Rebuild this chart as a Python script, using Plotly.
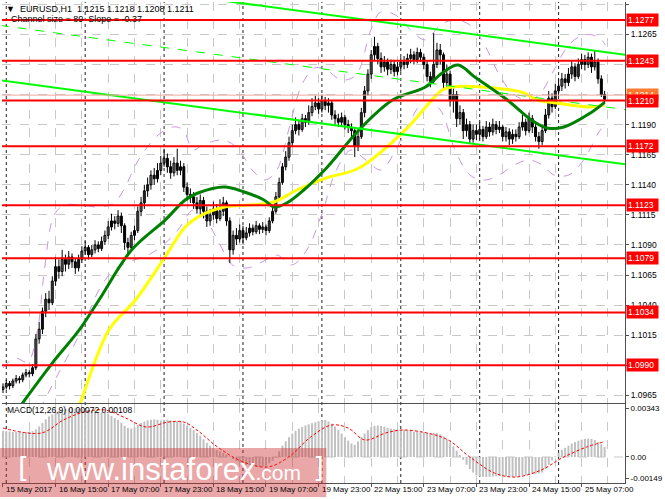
import plotly.graph_objects as go

# ---------------- data (prices in pips = 1e-4) ----------------
first_open_pips = 10970
close_pips = [
    10972,10975,10973,10977,10979,10978,10982,10984,10983,10988,
    11012,11020,11035,11045,11042,11060,11072,11068,11078,11074,
    11080,11076,11071,11078,11085,11088,11082,11086,11090,11087,
    11093,11098,11105,11110,11108,11114,11106,11092,11088,11098,
    11102,11118,11125,11135,11140,11148,11145,11152,11158,11162,
    11155,11150,11158,11152,11155,11138,11132,11130,11125,11120,
    11127,11118,11110,11115,11120,11112,11118,11125,11110,11086,
    11098,11095,11102,11096,11100,11104,11101,11106,11103,11105,
    11102,11110,11118,11130,11142,11155,11163,11175,11185,11190,
    11186,11195,11192,11200,11205,11208,11203,11210,11206,11208,
    11198,11195,11192,11196,11190,11188,11185,11172,11180,11200,
    11218,11232,11248,11255,11245,11238,11242,11236,11240,11234,
    11238,11242,11240,11245,11248,11244,11250,11246,11240,11230,
    11226,11240,11252,11248,11225,11232,11210,11215,11195,11200,
    11185,11190,11178,11185,11182,11186,11180,11188,11184,11190,
    11186,11188,11180,11184,11178,11182,11180,11188,11192,11185,
    11195,11188,11180,11176,11185,11198,11212,11205,11218,11222,
    11228,11225,11232,11238,11230,11240,11244,11240,11246,11238,
    11242,11228,11215,11211]
high_pips = [
    10975,10978,10977,10979,10982,10981,10984,10987,10986,10991,
    11016,11026,11038,11050,11052,11064,11080,11078,11086,11082,
    11085,11083,11079,11082,11089,11093,11090,11090,11094,11093,
    11097,11102,11110,11116,11114,11119,11117,11108,11096,11101,
    11106,11122,11130,11140,11146,11152,11154,11158,11164,11170,
    11166,11160,11163,11170,11160,11158,11142,11137,11134,11130,
    11132,11130,11122,11120,11126,11124,11128,11130,11127,11113,
    11102,11104,11107,11106,11105,11108,11107,11110,11108,11109,
    11107,11113,11122,11134,11146,11158,11168,11180,11190,11196,
    11194,11199,11198,11206,11212,11214,11212,11215,11213,11212,
    11210,11202,11199,11200,11198,11194,11191,11187,11186,11204,
    11222,11236,11252,11263,11258,11250,11247,11245,11244,11243,
    11242,11246,11247,11249,11253,11251,11254,11253,11249,11243,
    11234,11266,11258,11257,11250,11240,11235,11220,11218,11206,
    11203,11195,11193,11190,11190,11192,11189,11193,11192,11195,
    11193,11193,11190,11188,11187,11186,11186,11192,11198,11195,
    11200,11198,11191,11184,11190,11203,11218,11216,11224,11228,
    11233,11232,11237,11243,11241,11245,11249,11248,11250,11249,
    11252,11245,11231,11218]
low_pips = [
    10967,10970,10970,10971,10975,10975,10976,10980,10980,10981,
    10986,11008,11016,11030,11036,11040,11056,11062,11064,11068,
    11070,11071,11066,11068,11075,11082,11078,11080,11083,11084,
    11085,11090,11095,11102,11103,11105,11100,11086,11083,11085,
    11094,11100,11114,11120,11130,11136,11140,11142,11148,11155,
    11150,11145,11147,11148,11148,11134,11127,11125,11120,11116,
    11115,11112,11105,11106,11111,11108,11110,11114,11106,11075,
    11082,11090,11092,11091,11094,11097,11098,11099,11099,11100,
    11098,11100,11108,11116,11128,11140,11152,11160,11172,11182,
    11181,11184,11188,11190,11197,11202,11199,11200,11202,11200,
    11194,11190,11188,11189,11186,11183,11180,11163,11168,11178,
    11196,11214,11228,11243,11240,11233,11234,11231,11232,11230,
    11231,11234,11236,11237,11241,11240,11241,11242,11236,11226,
    11221,11224,11237,11240,11220,11221,11205,11200,11188,11190,
    11178,11180,11174,11175,11177,11178,11176,11178,11180,11181,
    11182,11183,11176,11176,11173,11174,11176,11178,11185,11181,
    11183,11183,11176,11170,11173,11183,11195,11200,11203,11214,
    11218,11220,11222,11228,11226,11228,11236,11235,11237,11233,
    11235,11224,11213,11208]

x_labels = ["15 May 2017", "16 May 15:00", "17 May 07:00", "17 May 23:00",
            "18 May 15:00", "19 May 07:00", "19 May 23:00", "22 May 15:00",
            "23 May 07:00", "23 May 23:00", "24 May 15:00", "25 May 07:00"]
x_label_bars = [0, 16, 32, 48, 64, 80, 96, 112, 128, 144, 160, 176]
day_start_bars = [1, 25, 49, 73, 97, 121, 145, 169]

levels = [1.1277, 1.1243, 1.1210, 1.1172, 1.1123, 1.1079, 1.1034, 1.0990]
level_texts = ["1.1277", "1.1243", "1.1210", "1.1172", "1.1123", "1.1079", "1.1034", "1.0990"]
bid_level = 1.12145
bid_text = "1.1214"

price_ticks = [1.0965, 1.0990, 1.1015, 1.1040, 1.1065, 1.1090, 1.1115,
               1.1140, 1.1165, 1.1190, 1.1215, 1.1240, 1.1265, 1.1290]
price_tick_text = ["1.0965", "1.0990", "1.1015", "1.1040", "1.1065", "1.1090", "1.1115",
                   "1.1140", "1.1165", "1.1190", "1.1215", "1.1240", "1.1265", "1.1290"]

ma_green_bar = [4, 6.6, 15.0, 23.2, 29.2, 39.1, 49.3, 55.4, 59.3, 67.4, 73.4, 79.4, 82.4, 86.3,
                91.5, 98.4, 108.3, 118.5, 128.5, 133.6, 138.4, 143.5, 153.4, 160.7, 165.5,
                170.6, 178.7, 183]
ma_green_val = [1.0951, 1.09611, 1.09919, 1.10194, 1.10443, 1.10858, 1.11107, 1.11274, 1.11332,
                1.11382, 1.11340, 1.11274, 1.11216, 1.11249, 1.11357, 1.11540, 1.11856, 1.12105,
                1.12213, 1.12329, 1.12396, 1.12296, 1.12105, 1.11939, 1.11872, 1.11880, 1.11997,
                1.12085]
ma_yellow_bar = [21.5, 23.8, 32.2, 40.3, 49.3, 55.4, 59.3, 67.4, 75.2, 82.4, 89.4, 98.4, 108.3,
                 122.4, 133.6, 136.6, 149.5, 158.5, 162.5, 168.5, 178.7, 183]
ma_yellow_val = [1.0945, 1.09611, 1.10194, 1.10443, 1.10800, 1.11049, 1.11132, 1.11215, 1.11232,
                 1.11257, 1.11357, 1.11457, 1.11540, 1.11856, 1.12188, 1.12213, 1.12205, 1.12163,
                 1.12105, 1.12080, 1.12047, 1.12063]

bb_upper_bar = [0, 3.6, 7.5, 10.5, 12.6, 15.6, 18.7, 23.2, 29.2, 33.7, 36.7, 41.2, 47.2, 51.7,
                54.8, 57.8, 60.8, 66.8, 71.3, 75.8, 79.7, 83.3, 86.9, 90.9, 94.8, 98.4, 102.9,
                107.4, 111.9, 114.9, 119.4, 124.0, 128.5, 133.0, 137.5, 142.0, 146.5, 151.0,
                155.5, 160.0, 163.1, 167.6, 172.1, 176.6, 181.1, 183.2]
bb_upper_val = [1.09878, 1.09961, 1.09928, 1.10194, 1.10692, 1.11149, 1.11232, 1.11232, 1.11216,
                1.11249, 1.11357, 1.11606, 1.11814, 1.11881, 1.11856, 1.11690, 1.11731, 1.11773,
                1.11706, 1.11523, 1.11440, 1.11523, 1.11856, 1.12230, 1.12371, 1.12354, 1.12271,
                1.12313, 1.12687, 1.12836, 1.12811, 1.12687, 1.12604, 1.12728, 1.12770, 1.12728,
                1.12562, 1.12313, 1.12147, 1.12105, 1.12147, 1.12354, 1.12562, 1.12645, 1.12629,
                1.12562]
bb_lower_bar = [11.1, 17.1, 23.2, 29.2, 33.7, 38.2, 44.2, 48.7, 53.2, 57.8, 60.8, 65.3, 69.8,
                74.3, 78.8, 83.3, 87.8, 92.4, 96.9, 101.4, 105.9, 110.4, 115.0, 119.4, 124.0,
                128.5, 133.0, 137.5, 142.0, 146.5, 151.0, 155.5, 160.0, 164.0, 167.6, 172.1,
                176.6, 181.1, 183.2]
bb_lower_val = [1.09529, 1.09845, 1.10152, 1.10526, 1.10692, 1.10759, 1.10817, 1.10900, 1.11025,
                1.11191, 1.11149, 1.10942, 1.10734, 1.10709, 1.10759, 1.10817, 1.10734, 1.10858,
                1.11149, 1.11523, 1.11690, 1.11606, 1.11523, 1.11690, 1.11939, 1.12105, 1.12022,
                1.11690, 1.11482, 1.11440, 1.11482, 1.11565, 1.11606, 1.11565, 1.11482, 1.11482,
                1.11606, 1.11831, 1.11914]

channel_bars = [-1, 190]
channel_upper = [1.13180, 1.12477]
channel_middle = [1.12725, 1.12022]
channel_lower = [1.12270, 1.11567]

# MACD histogram (units of 1e-5)
macd_e5 = [
    185,182,180,178,176,175,174,176,178,182,195,215,
    240,265,285,300,315,325,332,338,342,345,343,340,338,
    335,330,325,320,318,315,312,305,
    290,275,262,240,220,205,200,210,
    225,240,250,258,262,265,262,258,260,262,258,252,
    250,248,235,220,
    205,190,170,150,125,100,80,65,50,
    40,30,18,5,-15,
    -30,-40,-48,-55,-60,-65,-68,-70,-68,-60,-45,-25,-5,
    40,80,110,140,165,
    185,200,212,222,230,238,245,252,258,260,
    250,235,215,190,165,140,115,95,85,
    110,140,165,190,210,220,222,
    218,212,205,200,196,194,192,190,188,185,180,178,175,
    175,170,165,170,168,160,145,125,100,75,
    45,15,-20,-55,-85,-110,-130,
    -138,-140,-142,-140,-138,-136,-135,-134,-136,-138,-140,-138,-135,-130,-128,-125,-120,-118,-115,-110,
    -85,-55,-25,5,
    30,50,65,80,95,105,115,122,128,130,128,120,105,90,72]
signal_bar = [0, 11.7, 18.4, 24.7, 31, 37.3, 43.6, 50.2, 55, 59, 65.3, 73.1, 80.6, 86.9, 93.6,
              99.9, 105, 110.1, 116.4, 121.5, 129, 135.4, 142, 149.5, 155.8, 163.7, 170, 177.5, 183]
signal_e5 = [204, 169, 261, 317, 331, 275, 211, 246, 246, 190, 70, -35, -70, 0, 141,
             225, 204, 120, 169, 190, 169, 120, 0, -113, -141, -92, -7, 70, 108]
macd_ticks = [-0.00149, 0.0, 0.00343]
macd_tick_text = ["-0.00149", "0.00", "0.00343"]

# ---------------- figure ----------------
FONT = "Liberation Sans"
n = len(close_pips)
bars = list(range(n))
opens = [first_open_pips] + close_pips[:-1]
O = [v / 1e4 for v in opens]
C = [v / 1e4 for v in close_pips]
H = [v / 1e4 for v in high_pips]
L = [v / 1e4 for v in low_pips]

fig = go.Figure()

for bx, by in ((bb_upper_bar, bb_upper_val), (bb_lower_bar, bb_lower_val)):
    fig.add_trace(go.Scatter(x=bx, y=by, mode="lines", line=dict(color="#C896E6", width=1, dash="dash", shape="spline"),
                             hoverinfo="skip", xaxis="x", yaxis="y"))

wx, wy = [], []
for i in bars:
    wx += [i, i, None]
    wy += [L[i], H[i], None]
fig.add_trace(go.Scatter(x=wx, y=wy, mode="lines", line=dict(color="black", width=1), hoverinfo="skip",
                         xaxis="x", yaxis="y"))

bull_x, bull_base, bull_h, bear_x, bear_base, bear_h = [], [], [], [], [], []
for i in bars:
    lo, hi = min(O[i], C[i]), max(O[i], C[i])
    h = max(hi - lo, 0.00003)
    if C[i] >= O[i]:
        bull_x.append(i); bull_base.append(lo); bull_h.append(h)
    else:
        bear_x.append(i); bear_base.append(lo); bear_h.append(h)
fig.add_trace(go.Bar(x=bull_x, y=bull_h, base=bull_base, width=0.6, marker=dict(color="white", line=dict(color="black", width=1)),
                     hoverinfo="skip", xaxis="x", yaxis="y"))
fig.add_trace(go.Bar(x=bear_x, y=bear_h, base=bear_base, width=0.6, marker=dict(color="black", line=dict(color="black", width=1)),
                     hoverinfo="skip", xaxis="x", yaxis="y"))

fig.add_trace(go.Scatter(x=ma_yellow_bar, y=ma_yellow_val, mode="lines", line=dict(color="#FFFF00", width=3, shape="spline"),
                         hoverinfo="skip", xaxis="x", yaxis="y"))
fig.add_trace(go.Scatter(x=ma_green_bar, y=ma_green_val, mode="lines", line=dict(color="#008000", width=3, shape="spline"),
                         hoverinfo="skip", xaxis="x", yaxis="y"))

fig.add_trace(go.Scatter(x=channel_bars, y=channel_middle, mode="lines", line=dict(color="#00FF00", width=1, dash="dash"),
                         hoverinfo="skip", xaxis="x", yaxis="y"))
for cy in (channel_upper, channel_lower):
    fig.add_trace(go.Scatter(x=channel_bars, y=cy, mode="lines", line=dict(color="#00FF00", width=2),
                             hoverinfo="skip", xaxis="x", yaxis="y"))

fig.add_trace(go.Scatter(x=channel_bars, y=[bid_level, bid_level], mode="lines", line=dict(color="#F6A8A0", width=1),
                         hoverinfo="skip", xaxis="x", yaxis="y"))
for lv in levels:
    fig.add_trace(go.Scatter(x=channel_bars, y=[lv, lv], mode="lines", line=dict(color="#FF0000", width=2),
                             hoverinfo="skip", xaxis="x", yaxis="y"))

fig.add_trace(go.Bar(x=bars, y=[v / 1e5 for v in macd_e5], width=0.6, marker=dict(color="#C0C0C0", line=dict(width=0)),
                     hoverinfo="skip", xaxis="x2", yaxis="y2"))
fig.add_trace(go.Scatter(x=signal_bar, y=[v / 1e5 for v in signal_e5], mode="lines",
                         line=dict(color="#FF0000", width=1, dash="3px,2px", shape="spline"),
                         hoverinfo="skip", xaxis="x2", yaxis="y2"))

grid = dict(showgrid=True, gridcolor="#C8C8C8", gridwidth=1, griddash="dash")
xcommon = dict(range=[-0.3, 189.2], tickmode="linear", tick0=0, dtick=16, zeroline=False,
               minor=dict(tickmode="linear", tick0=0, dtick=8, showgrid=True, gridcolor="#C8C8C8", griddash="dash"),
               showline=True, linecolor="#505050", linewidth=1, **grid)

shapes = []
for d in day_start_bars:
    shapes.append(dict(type="line", xref="x", yref="paper", x0=d, x1=d, y0=0, y1=1,
                       line=dict(color="#202020", width=1, dash="dot"), layer="below"))
shapes.append(dict(type="line", xref="paper", yref="y2", x0=0, x1=1, y0=0, y1=0,
                   line=dict(color="#C8C8C8", width=1, dash="dash"), layer="below"))
shapes.append(dict(type="rect", xref="paper", yref="paper", x0=-0.004, x1=0.5206, y0=-0.0291, y1=0.0728,
                   fillcolor="rgba(205,45,45,0.42)", line=dict(width=0), layer="above"))

annotations = []
for b, t in zip(x_label_bars, x_labels):
    annotations.append(dict(x=b, xref="x", y=-0.0135, yref="paper", text=t, showarrow=False,
                            xanchor="left", yanchor="middle", xshift=1,
                            font=dict(family=FONT, size=8, color="black")))
annotations.append(dict(x=1, xref="paper", y=bid_level, yref="y", text=bid_text, showarrow=False,
                        xanchor="left", yanchor="middle", xshift=1, bgcolor="#FF7A30", borderpad=1, width=29,
                        align="left", font=dict(family=FONT, size=8.5, color="white")))
for lv, t in zip(levels, level_texts):
    annotations.append(dict(x=1, xref="paper", y=lv, yref="y", text=t, showarrow=False,
                            xanchor="left", yanchor="middle", xshift=1, bgcolor="#FF0000", borderpad=1, width=29,
                            align="left", font=dict(family=FONT, size=8.5, color="white")))
annotations.append(dict(x=0.003, xref="paper", y=0.9854, yref="paper", text="\u25BC  EURUSD,H1  1.1215 1.1218 1.1208 1.1211",
                        showarrow=False, xanchor="left", yanchor="middle", font=dict(family=FONT, size=9, color="black")))
annotations.append(dict(x=0.012, xref="paper", y=0.9647, yref="paper", text="Channel size = 89  Slope = -0.37",
                        showarrow=False, xanchor="left", yanchor="middle", font=dict(family=FONT, size=9, color="black")))
annotations.append(dict(x=0.005, xref="paper", y=0.1518, yref="paper", text="MACD(12,26,9) 0.00072 0.00108",
                        showarrow=False, xanchor="left", yanchor="middle", font=dict(family=FONT, size=8.5, color="black")))
annotations.append(dict(x=0.275, xref="paper", y=0.028, yref="paper",
                        text="www.instaforex<span style='font-size:21px'>.com</span>",
                        showarrow=False, xanchor="center", yanchor="middle",
                        font=dict(family=FONT, size=31, color="white")))
annotations.append(dict(x=0.034, xref="paper", y=0.030, yref="paper", text="[", showarrow=False,
                        xanchor="center", yanchor="middle", font=dict(family="DejaVu Sans", size=28, color="white")))
annotations.append(dict(x=0.508, xref="paper", y=0.030, yref="paper", text="]", showarrow=False,
                        xanchor="center", yanchor="middle", font=dict(family="DejaVu Sans", size=28, color="white")))

fig.update_layout(
    width=665, height=499, margin=dict(l=2, r=33, t=2, b=16),
    paper_bgcolor="white", plot_bgcolor="white", showlegend=False, barmode="overlay",
    xaxis=dict(domain=[0, 1], anchor="y", showticklabels=False, ticks="", **xcommon),
    xaxis2=dict(domain=[0, 1], anchor="y2", matches="x", showticklabels=False, ticks="outside", ticklen=3,
                tickcolor="#505050", **xcommon),
    yaxis=dict(domain=[0.1663, 1], anchor="x", side="right", range=[1.09587, 1.12919], tickmode="array",
               tickvals=price_ticks, ticktext=price_tick_text, ticks="outside", ticklen=3, tickcolor="#505050",
               showline=True, linecolor="#505050", linewidth=1, zeroline=False,
               tickfont=dict(family=FONT, size=8.5, color="black"), **grid),
    yaxis2=dict(domain=[0, 0.1642], anchor="x2", side="right", range=[-0.001831, 0.003732], tickmode="array",
                tickvals=macd_ticks, ticktext=macd_tick_text, ticks="outside", ticklen=3, tickcolor="#505050",
                showline=True, linecolor="#505050", linewidth=1, zeroline=False, showgrid=False,
                tickfont=dict(family=FONT, size=8, color="black")),
    shapes=shapes, annotations=annotations,
)

fig.write_html("out.html", config={"displayModeBar": False, "staticPlot": True},
               post_script="document.body.style.margin='0';document.body.style.overflow='hidden';")
